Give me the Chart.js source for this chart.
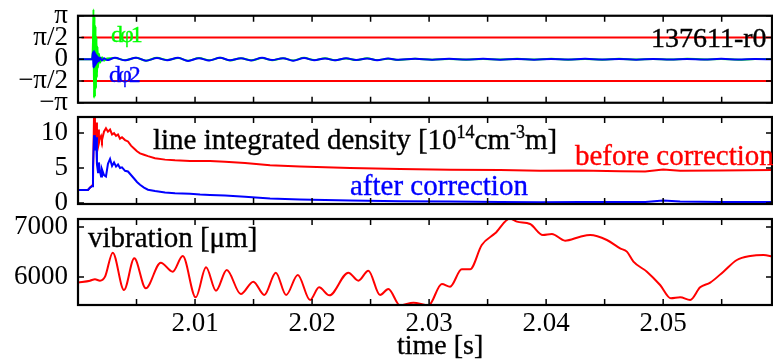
<!DOCTYPE html>
<html><head><meta charset="utf-8">
<script src="https://cdn.jsdelivr.net/npm/chart.js@4/dist/chart.umd.min.js"></script>
<style>
html,body{margin:0;padding:0;background:#fff;width:773px;height:362px;overflow:hidden;position:relative;}
canvas{position:absolute;left:0;}
</style></head><body>
<canvas id="c1" width="773" height="150" style="top:-20px"></canvas>
<canvas id="c2" width="773" height="160" style="top:80px"></canvas>
<canvas id="c3" width="773" height="182" style="top:180px"></canvas>
<script>
// ---------- data ----------
const xMin = 2.0, xMax = 2.0593;
const xTickValues = [2.005, 2.010, 2.015, 2.020, 2.025, 2.030, 2.035, 2.040, 2.045, 2.050, 2.055];
const xTickLabels = ['', '2.01', '', '2.02', '', '2.03', '', '2.04', '', '2.05', ''];

const phaseTickValues = [-Math.PI, -Math.PI / 2, 0, Math.PI / 2, Math.PI];
const phaseTickLabels = ['\u2212\u03c0', '\u2212\u03c0/2', '0', '\u03c0/2', '\u03c0'];
const densTickValues = [0, 5, 10];
const densTickLabels = ['0', '5', '10'];
const vibTickValues = [6000, 7000];
const vibTickLabels = ['6000', '7000'];

const refTime = [2.0003, 2.0593];
const refUpper = [Math.PI / 2, Math.PI / 2];
const refLower = [-Math.PI / 2, -Math.PI / 2];

const phaseTime = [2.00000, 2.00120, 2.00128, 2.00132, 2.00137, 2.00141, 2.00145, 2.00150, 2.00154, 2.00158,
  2.00162, 2.00167, 2.00171, 2.00179, 2.00188, 2.00205, 2.00222, 2.00248,
  2.00316, 2.00402, 2.00496, 2.00581, 2.00675, 2.00761, 2.00855, 2.00940, 2.01034, 2.01120,
  2.01214, 2.01299, 2.01393, 2.01479, 2.01573, 2.01658, 2.01752, 2.01838, 2.01932, 2.02017,
  2.02111, 2.02197, 2.02291, 2.02376, 2.02470, 2.02556, 2.02650, 2.02735,
  2.02880, 2.03026, 2.03171, 2.03316, 2.03462, 2.03607, 2.03752, 2.03897, 2.04043, 2.04188,
  2.04333, 2.04479, 2.04624, 2.04769, 2.04915, 2.05060, 2.05205, 2.05350, 2.05496, 2.05641,
  2.05786, 2.05932];
const dphi1 = [0, 0, 1.2, 3.6, -2.8, 3.1, -2.7, 2.4, -2.1, 1.6, -1.3, 0.9, -0.6, 0.4, -0.25, 0.15, -0.1, 0.05,
  0.09, -0.07, 0.1, -0.1, 0.1, -0.06, 0.09, -0.11, 0.09, -0.08, 0.1, -0.09, 0.08, -0.08, 0.09, -0.07,
  0.07, -0.09, 0.1, -0.06, 0.07, -0.07, 0.06, -0.06, 0.07, -0.06, 0.04, -0.05,
  0.04, -0.03, 0.02, -0.03, 0.02, -0.02, 0.03, -0.02, 0.03, -0.03, 0.02, -0.03, 0.03, -0.02, 0.01,
  -0.02, 0.03, -0.01, 0.02, -0.03, 0.01, 0.01];
const dphi2 = [0, 0, 0.5, -0.6, 0.62, -0.55, 0.5, -0.42, 0.35, -0.3, 0.25, -0.2, 0.16, -0.14, 0.12, -0.1, 0.08, -0.06,
  0.1, -0.08, 0.11, -0.1, 0.09, -0.07, 0.1, -0.12, 0.08, -0.09, 0.11, -0.08, 0.07, -0.09, 0.1, -0.06,
  0.08, -0.1, 0.09, -0.07, 0.06, -0.08, 0.07, -0.05, 0.06, -0.07, 0.05, -0.04,
  0.03, -0.04, 0.03, -0.02, 0.03, -0.03, 0.02, -0.03, 0.02, -0.02, 0.03, -0.02, 0.02, -0.03, 0.02,
  -0.01, 0.02, -0.02, 0.03, -0.02, 0.02, 0];

const densTime = [2.00000, 2.00085, 2.00103, 2.00120, 2.00128, 2.00137, 2.00145, 2.00154, 2.00162, 2.00171,
  2.00179, 2.00188, 2.00197, 2.00205, 2.00222, 2.00239, 2.00256, 2.00274, 2.00291, 2.00308,
  2.00325, 2.00342, 2.00359, 2.00376, 2.00402, 2.00427, 2.00453, 2.00479, 2.00504, 2.00530,
  2.00564, 2.00598, 2.00658, 2.00744, 2.00829, 2.00957, 2.01043, 2.01128, 2.01256, 2.01427,
  2.01641, 2.01897, 2.02325, 2.02752, 2.03179, 2.03607, 2.03949, 2.04291, 2.04632, 2.04846,
  2.05000, 2.05145, 2.05487, 2.05932];
const densBefore = [1.85, 1.85, 2.2, 2.5, 3.0, 12.5, 9.5, 11.5, 9.0, 10.5,
  8.6, 9.3, 9.6, 9.0, 10.2, 10.7, 10.2, 10.5, 9.8, 10.0,
  9.6, 9.8, 9.2, 9.4, 9.0, 8.8, 8.2, 7.8, 7.4, 7.1,
  6.9, 6.7, 6.4, 6.2, 6.1, 6.0, 6.0, 6.0, 5.9, 5.7,
  5.4, 5.2, 5.0, 4.85, 4.75, 4.7, 4.6, 4.65, 4.55, 4.5,
  4.8, 4.6, 4.65, 4.7];
const densAfter = [1.85, 1.85, 2.2, 2.4, 5.0, 9.7, 7.5, 9.4, 5.5, 4.4,
  5.8, 4.6, 3.8, 4.8, 4.0, 3.8, 5.6, 6.3, 5.3, 5.8,
  5.2, 5.5, 5.0, 5.1, 4.6, 4.5, 4.0, 3.5, 3.0, 2.6,
  2.2, 1.9, 1.7, 1.5, 1.4, 1.3, 1.2, 1.15, 1.05, 0.9,
  0.65, 0.5, 0.35, 0.25, 0.2, 0.12, 0.1, 0.12, 0.12, 0.12,
  0.35, 0.2, 0.15, 0.15];

const vibTime = [2.00000, 2.00103, 2.00145, 2.00188, 2.00231, 2.00297, 2.00393, 2.00481, 2.00579, 2.00707,
  2.00809, 2.00895, 2.01006, 2.01094, 2.01179, 2.01271, 2.01391, 2.01498, 2.01592, 2.01690,
  2.01778, 2.01878, 2.01983, 2.02060, 2.02148, 2.02310, 2.02396, 2.02481, 2.02581, 2.02652,
  2.02752, 2.02866, 2.02994, 2.03109, 2.03179, 2.03279, 2.03350, 2.03450, 2.03564, 2.03692,
  2.03750, 2.03863, 2.03972, 2.04049, 2.04162, 2.04291, 2.04376, 2.04519, 2.04632, 2.04690,
  2.04746, 2.04861, 2.04974, 2.05066, 2.05145, 2.05231, 2.05316, 2.05402, 2.05515, 2.05630,
  2.05744, 2.05857, 2.05938];
const vibration = [5887, 5927, 5953, 5927, 6007, 6487, 5740, 6373, 5773, 6287,
  6107, 6420, 5593, 6193, 5727, 6140, 5660, 5907, 5640, 6087,
  5640, 6040, 5540, 5793, 5633, 6087, 5927, 6127, 5640, 5760,
  5430, 5487, 5430, 5860, 5807, 6153, 6153, 6640, 6873, 7170,
  7107, 7060, 6840, 6860, 6727, 6807, 6840, 6740, 6573, 6507,
  6307, 6107, 5840, 5573, 5593, 5540, 5793, 5887, 6107, 6340,
  6420, 6440, 6407];

// ---------- helpers ----------
const FONT = 'Liberation Serif';
const RED = '#ff0000', GREEN = '#00ff00', BLUE = '#0000ff';
const pts = (xs, ys) => xs.map((x, i) => ({ x: x, y: ys[i] }));

const frame = {
  id: 'frame',
  afterDatasetsDraw(chart, args, opts) {
    const { ctx, chartArea: a, scales } = chart;
    ctx.save();
    ctx.strokeStyle = '#000';
    ctx.lineWidth = 1.5;
    const L = 6;
    ctx.beginPath();
    xTickValues.forEach(v => {
      const px = scales.x.getPixelForValue(v);
      ctx.moveTo(px, a.bottom); ctx.lineTo(px, a.bottom - L);
      ctx.moveTo(px, a.top); ctx.lineTo(px, a.top + L);
    });
    opts.yTicks.forEach(v => {
      const py = scales.y.getPixelForValue(v);
      ctx.moveTo(a.left, py); ctx.lineTo(a.left + L, py);
      ctx.moveTo(a.right, py); ctx.lineTo(a.right - L, py);
    });
    ctx.stroke();
    ctx.lineWidth = 2.2;
    ctx.strokeRect(a.left, a.top, a.width, a.height);
    const off = opts.offsetY || 0;
    (opts.texts || []).forEach(t => {
      let x = t.x;
      ctx.textBaseline = 'alphabetic';
      ctx.textAlign = 'left';
      ctx.fillStyle = t.color || '#000';
      ctx.strokeStyle = t.color || '#000';
      ctx.lineWidth = 0.35;
      t.parts.forEach(p => {
        ctx.font = p.size + 'px "' + FONT + '"';
        ctx.letterSpacing = (p.ls || 0) + 'px';
        const yy = t.y - off + (p.dy || 0);
        ctx.fillText(p.s, x, yy);
        ctx.strokeText(p.s, x, yy);
        x += ctx.measureText(p.s).width;
      });
      ctx.letterSpacing = '0px';
    });
    ctx.restore();
  }
};

function makeChart(id, offsetY, datasets, yMin, yMax, yTicks, yLabels, padding, showX, texts) {
  return new Chart(document.getElementById(id), {
    type: 'line',
    data: { datasets: datasets },
    options: {
      responsive: false,
      animation: false,
      events: [],
      layout: { padding: padding },
      plugins: { legend: { display: false }, tooltip: { enabled: false },
        frame: { yTicks: yTicks, texts: texts, offsetY: offsetY } },
      elements: { point: { radius: 0 }, line: { borderWidth: 2 } },
      scales: {
        x: {
          type: 'linear', min: xMin, max: xMax, display: showX,
          grid: { display: false, drawTicks: false }, border: { display: false },
          afterBuildTicks: s => { s.ticks = xTickValues.map(v => ({ value: v })); },
          afterFit: s => { if (showX) s.height = 57; },
          ticks: { autoSkip: false, maxRotation: 0, padding: 3, color: '#000',
            font: { family: FONT, size: 27 },
            callback: (v, i) => xTickLabels[i] }
        },
        y: {
          type: 'linear', min: yMin, max: yMax,
          grid: { display: false, drawTicks: false }, border: { display: false },
          afterBuildTicks: s => { s.ticks = yTicks.map(v => ({ value: v })); },
          afterFit: s => { s.width = 78; },
          ticks: { autoSkip: false, padding: 10, color: '#000',
            font: { family: FONT, size: 27 },
            callback: (v, i) => yLabels[i] }
        }
      }
    },
    plugins: [frame]
  });
}

// panel 1: canvas top -20 -> chart area 15.75..102.75 on page
makeChart('c1', -20, [
  { data: pts(phaseTime, dphi2), borderColor: BLUE, borderWidth: 2, cubicInterpolationMode: 'monotone', clip: { left: 2, top: 12, right: 2, bottom: 2 } },
  { data: pts(phaseTime, dphi1), borderColor: GREEN, borderWidth: 2, cubicInterpolationMode: 'monotone', clip: { left: 2, top: 12, right: 2, bottom: 2 } },
  { data: pts(refTime, refUpper), borderColor: RED, borderWidth: 2 },
  { data: pts(refTime, refLower), borderColor: RED, borderWidth: 2 }
], -Math.PI, Math.PI, phaseTickValues, phaseTickLabels,
  { top: 35.75, bottom: 27.25, left: 0, right: 1 }, false, [
  { x: 111, y: 42, color: GREEN, parts: [{ s: 'd\u03c61', size: 24, ls: -3 }] },
  { x: 109, y: 82, color: BLUE, parts: [{ s: 'd\u03c62', size: 24, ls: -3 }] },
  { x: 651, y: 47, color: '#000', parts: [{ s: '137611-r0', size: 28 }] }
]);

// panel 2: canvas top 80 -> chart area 117..204
makeChart('c2', 80, [
  { data: pts(densTime, densAfter), borderColor: BLUE, borderWidth: 2 },
  { data: pts(densTime, densBefore), borderColor: RED, borderWidth: 2 }
], -0.15, 12.3, densTickValues, densTickLabels,
  { top: 37, bottom: 36, left: 0, right: 1 }, false, [
  { x: 153, y: 148.5, color: '#000', parts: [
    { s: 'line integrated density [10', size: 29 },
    { s: '14', size: 18, dy: -11 },
    { s: 'cm', size: 29 },
    { s: '-3', size: 18, dy: -11 },
    { s: 'm]', size: 29 }] },
  { x: 575, y: 165, color: RED, parts: [{ s: 'before correction', size: 29 }] },
  { x: 350, y: 195, color: BLUE, parts: [{ s: 'after correction', size: 29 }] }
]);

// panel 3: canvas top 180 -> chart area 219..305
makeChart('c3', 180, [
  { data: pts(vibTime, vibration), borderColor: RED, borderWidth: 2, cubicInterpolationMode: 'monotone' }
], 5440, 7160, vibTickValues, vibTickLabels,
  { top: 39, bottom: 0, left: 0, right: 1 }, true, [
  { x: 88, y: 247, color: '#000', parts: [{ s: 'vibration [\u03bcm]', size: 29 }] },
  { x: 397, y: 353.5, color: '#000', parts: [{ s: 'time [s]', size: 28 }] }
]);
</script>
</body></html>
